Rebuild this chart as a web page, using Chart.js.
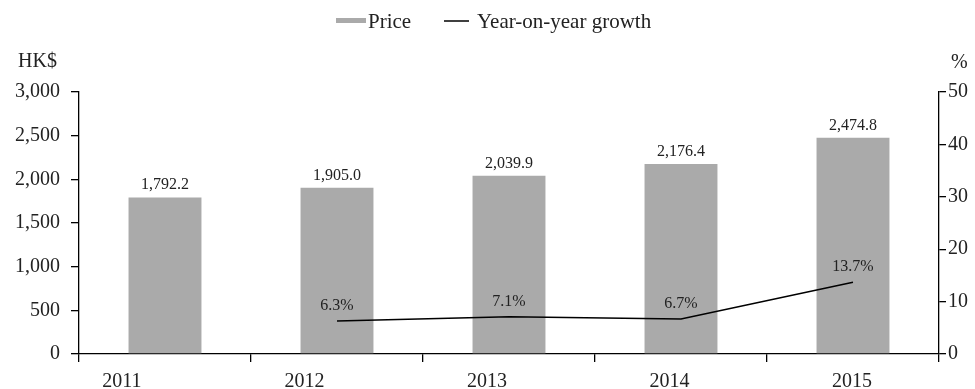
<!DOCTYPE html>
<html>
<head>
<meta charset="utf-8">
<script src="https://cdn.jsdelivr.net/npm/chart.js@4.4.1/dist/chart.umd.min.js"></script>
<style>
  html, body { margin: 0; padding: 0; background: #fff; }
  #wrap { width: 975px; height: 389px; }
</style>
</head>
<body>
<div id="wrap"><canvas id="myChart" width="975" height="389"></canvas></div>
<script>
const years = ["2011", "2012", "2013", "2014", "2015"];
const price = [1792.2, 1905.0, 2039.9, 2176.4, 2474.8];
const growth = [null, 6.3, 7.1, 6.7, 13.7];
const leftTicks = [0, 500, 1000, 1500, 2000, 2500, 3000];
const rightTicks = [0, 10, 20, 30, 40, 50];

const serif = "'Liberation Serif', 'Times New Roman', serif";
const BAR_GRAY = "#aaaaaa";
const INK = "#222";

const fmtPrice = (v) =>
  v.toLocaleString("en-US", { minimumFractionDigits: 1, maximumFractionDigits: 1 });

// legend, unit captions and value labels
const labelsPlugin = {
  id: "labelsPlugin",
  afterDatasetsDraw(chart) {
    const ctx = chart.ctx;
    ctx.save();
    ctx.fillStyle = INK;
    ctx.textAlign = "center";
    ctx.textBaseline = "alphabetic";
    ctx.font = "16px " + serif;
    chart.getDatasetMeta(0).data.forEach((bar, i) => {
      ctx.fillText(fmtPrice(price[i]), bar.x, bar.y - 8);
    });
    chart.getDatasetMeta(1).data.forEach((pt, i) => {
      if (growth[i] == null) return;
      ctx.fillText(growth[i].toFixed(1) + "%", pt.x, pt.y - 11);
    });

    // units
    ctx.textAlign = "left";
    ctx.font = "20px " + serif;
    ctx.fillText("HK$", 18, 67);
    ctx.fillText("%", 951, 68);

    // legend
    ctx.font = "21px " + serif;
    ctx.fillStyle = BAR_GRAY;
    ctx.fillRect(336, 18, 30, 5);
    ctx.fillStyle = INK;
    ctx.fillText("Price", 368, 28);
    ctx.strokeStyle = "#000";
    ctx.lineWidth = 1.5;
    ctx.beginPath();
    ctx.moveTo(444, 21);
    ctx.lineTo(469, 21);
    ctx.stroke();
    ctx.fillText("Year-on-year growth", 477, 28);
    ctx.restore();
  },
};

const config = {
  data: {
    labels: years,
    datasets: [
      {
        type: "bar",
        label: "Price",
        data: price,
        backgroundColor: BAR_GRAY,
        barPercentage: 0.424,
        categoryPercentage: 1,
        xAxisID: "x",
        yAxisID: "y",
        order: 2,
      },
      {
        type: "line",
        label: "Year-on-year growth",
        data: growth,
        borderColor: "#000",
        backgroundColor: "#000",
        borderWidth: 1.5,
        pointRadius: 0,
        tension: 0,
        xAxisID: "x",
        yAxisID: "y1",
        order: 1,
      },
    ],
  },
  options: {
    responsive: false,
    animation: false,
    layout: { padding: { top: 92, left: 0, right: 0, bottom: 0 } },
    plugins: {
      tooltip: { enabled: false },
      legend: { display: false },
    },
    scales: {
      // category axis: bars, line, tick marks between years
      x: {
        type: "category",
        position: "bottom",
        offset: true,
        afterFit(scale) { scale.height = 0; },
        grid: { display: true, offset: true, drawOnChartArea: false, drawTicks: true, tickLength: 8, color: "#000", lineWidth: 1.3 },
        border: { display: true, color: "#000", width: 1.3 },
        ticks: { display: false },
      },
      // year labels as placed in the original
      xl: {
        type: "linear",
        position: "bottom",
        min: -0.2353,
        max: 4.476,
        afterFit(scale) { scale.height = 35; },
        afterBuildTicks(scale) { scale.ticks = years.map((y, i) => ({ value: i })); },
        grid: { display: false, drawTicks: false },
        border: { display: false },
        ticks: { color: INK, font: { family: serif, size: 20 }, padding: 16, maxRotation: 0, autoSkip: false, callback: (v) => years[v] },
      },
      y: {
        position: "left",
        min: 0,
        max: 3000,
        afterFit(scale) { scale.width = 79; },
        afterBuildTicks(scale) { scale.ticks = leftTicks.map((v) => ({ value: v })); },
        grid: { display: true, drawOnChartArea: false, tickLength: 8, color: "#000", lineWidth: 1.3 },
        border: { display: true, color: "#000", width: 1.3 },
        ticks: { color: INK, font: { family: serif, size: 20 }, padding: 11, callback: (v) => v.toLocaleString("en-US") },
      },
      y1: {
        position: "right",
        min: 0,
        max: 50,
        afterFit(scale) { scale.width = 36; },
        afterBuildTicks(scale) { scale.ticks = rightTicks.map((v) => ({ value: v })); },
        grid: { display: true, drawOnChartArea: false, tickLength: 7, color: "#000", lineWidth: 1.3 },
        border: { display: true, color: "#000", width: 1.3 },
        ticks: { color: INK, font: { family: serif, size: 20 }, padding: 2 },
      },
    },
  },
  plugins: [labelsPlugin],
};

const myChart = new Chart(document.getElementById("myChart"), config);
</script>
</body>
</html>
